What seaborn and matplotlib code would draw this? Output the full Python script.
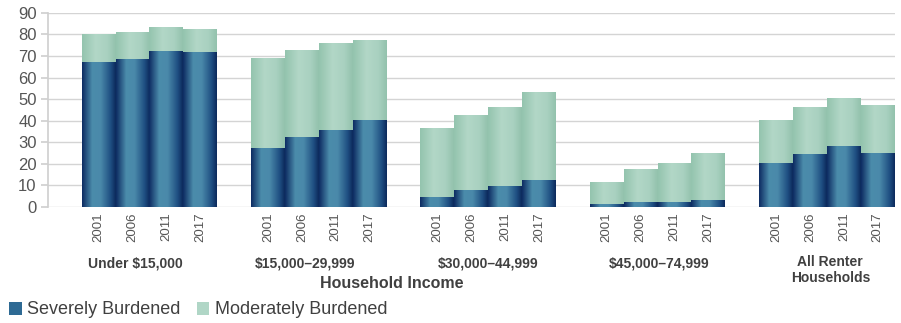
import numpy as np
import pandas as pd
import matplotlib
matplotlib.use("Agg")
import matplotlib.pyplot as plt
from matplotlib.patches import Patch
from matplotlib.colors import LinearSegmentedColormap
import matplotlib.transforms as mtransforms
import seaborn as sns

# ---- data ----
groups = ["Under $15,000", "$15,000\u201329,999", "$30,000\u201344,999",
          "$45,000\u201374,999", "All Renter\nHouseholds"]
years = ["2001", "2006", "2011", "2017"]
severe = [
    [67.3, 68.6, 72.4, 71.7],
    [27.4, 32.6, 35.9, 40.2],
    [4.8, 7.9, 9.7, 12.7],
    [1.4, 2.2, 2.5, 3.1],
    [20.6, 24.7, 28.1, 24.9],
]
total = [
    [80.1, 81.2, 83.6, 82.6],
    [69.3, 72.7, 76.1, 77.6],
    [36.8, 42.7, 46.5, 53.3],
    [11.7, 17.5, 20.6, 24.9],
    [40.5, 46.5, 50.7, 47.2],
]
yticks = [0, 10, 20, 30, 40, 50, 60, 70, 80, 90]
xlabel = "Household Income"
legend_labels = ["Severely Burdened", "Moderately Burdened"]

sns.set_theme(style="white")
plt.rcParams['font.family'] = ['Liberation Sans', 'DejaVu Sans']

rows = []
for g, grp in enumerate(groups):
    for i, yr in enumerate(years):
        rows.append({"pos": g * 5 + i + 1, "group": grp, "year": yr,
                     "severe": severe[g][i], "total": total[g][i]})
df = pd.DataFrame(rows)

fig = plt.figure(figsize=(9.01, 3.23), dpi=100)
ax = fig.add_axes([0.053, 0.359, 0.940, 0.601])

sev_col = "#2c6490"
mod_col = "#a6d0bf"

sns.barplot(data=df, x="pos", y="total", native_scale=True, width=1.0,
            color=mod_col, saturation=1, ax=ax, errorbar=None, linewidth=0)
n_mod = len(ax.patches)
sns.barplot(data=df, x="pos", y="severe", native_scale=True, width=1.0,
            color=sev_col, saturation=1, ax=ax, errorbar=None, linewidth=0)

ax.set_xlim(-0.5, 24.5)
ax.set_ylim(0, 90)

# gradient shading on bars
sev_cmap = LinearSegmentedColormap.from_list(
    "sev", [(0, "#0e2d63"), (0.3, "#4b8cab"), (0.55, "#4a89aa"), (0.85, "#1f4f82"), (1, "#0c2a5c")])
mod_cmap = LinearSegmentedColormap.from_list(
    "mod", [(0, "#94c4ae"), (0.4, "#b2d7c7"), (0.75, "#a9d1c0"), (1, "#93c2ad")])
grad = np.linspace(0, 1, 64).reshape(1, -1)
for k, p in enumerate(list(ax.patches)):
    x0, y0 = p.get_x(), p.get_y()
    w, h = p.get_width(), p.get_height()
    cm = mod_cmap if k < n_mod else sev_cmap
    im = ax.imshow(grad, cmap=cm, extent=[x0, x0 + w, y0, y0 + h],
                   aspect="auto", zorder=p.get_zorder() + 0.01 * (k >= n_mod) + 0.001,
                   interpolation="bilinear")
    im.set_clip_path(p)
ax.set_xlim(-0.5, 24.5)
ax.set_ylim(0, 90)
ax.set_aspect("auto")

# grid & spines
ax.set_yticks(yticks)
ax.set_yticklabels([str(v) for v in yticks], fontsize=12, color="#555555")
ax.yaxis.grid(True, color="#d4d4d4", linewidth=1.0)
ax.set_axisbelow(True)
for s in ["top", "right", "bottom"]:
    ax.spines[s].set_visible(False)
ax.spines["left"].set_color("#d0d0d0")
ax.tick_params(axis="y", length=5, color="#d0d0d0", pad=3, left=True)

ax.set_xticks(df["pos"].tolist())
ax.set_xticklabels(df["year"].tolist(), rotation=90, fontsize=9.5, color="#555555")
ax.tick_params(axis="x", length=0, pad=4)
ax.set_xlabel("")
ax.set_ylabel("")

# group labels
trans = mtransforms.blended_transform_factory(ax.transData, fig.transFigure)
offs = [-0.4, -0.4, 0.0, 0.05, 0.1]
for g, grp in enumerate(groups):
    cx = g * 5 + 2.5 + offs[g]
    if "\n" in grp:
        ax.text(cx, 1 - 270 / 323, grp, transform=trans, ha="center", va="center",
                fontsize=10, fontweight="bold", color="#404040", linespacing=1.1)
    else:
        ax.text(cx, 1 - 263 / 323, grp, transform=trans, ha="center", va="center",
                fontsize=10, fontweight="bold", color="#404040")

fig.text(392 / 901, 1 - 284 / 323, xlabel, ha="center", va="center",
         fontsize=11.5, fontweight="bold", color="#404040")

handles = [Patch(facecolor="#2e6a94", edgecolor="none"),
           Patch(facecolor="#b0d6c6", edgecolor="none")]
fig.legend(handles, legend_labels, loc="center left",
           bbox_to_anchor=(0.0, 1 - 310 / 323), ncol=2, frameon=False,
           fontsize=13, handlelength=0.7, handleheight=0.7, handletextpad=0.3,
           columnspacing=0.9, labelcolor="#404040", borderaxespad=0.1)

fig.savefig("out.png", dpi=100)
